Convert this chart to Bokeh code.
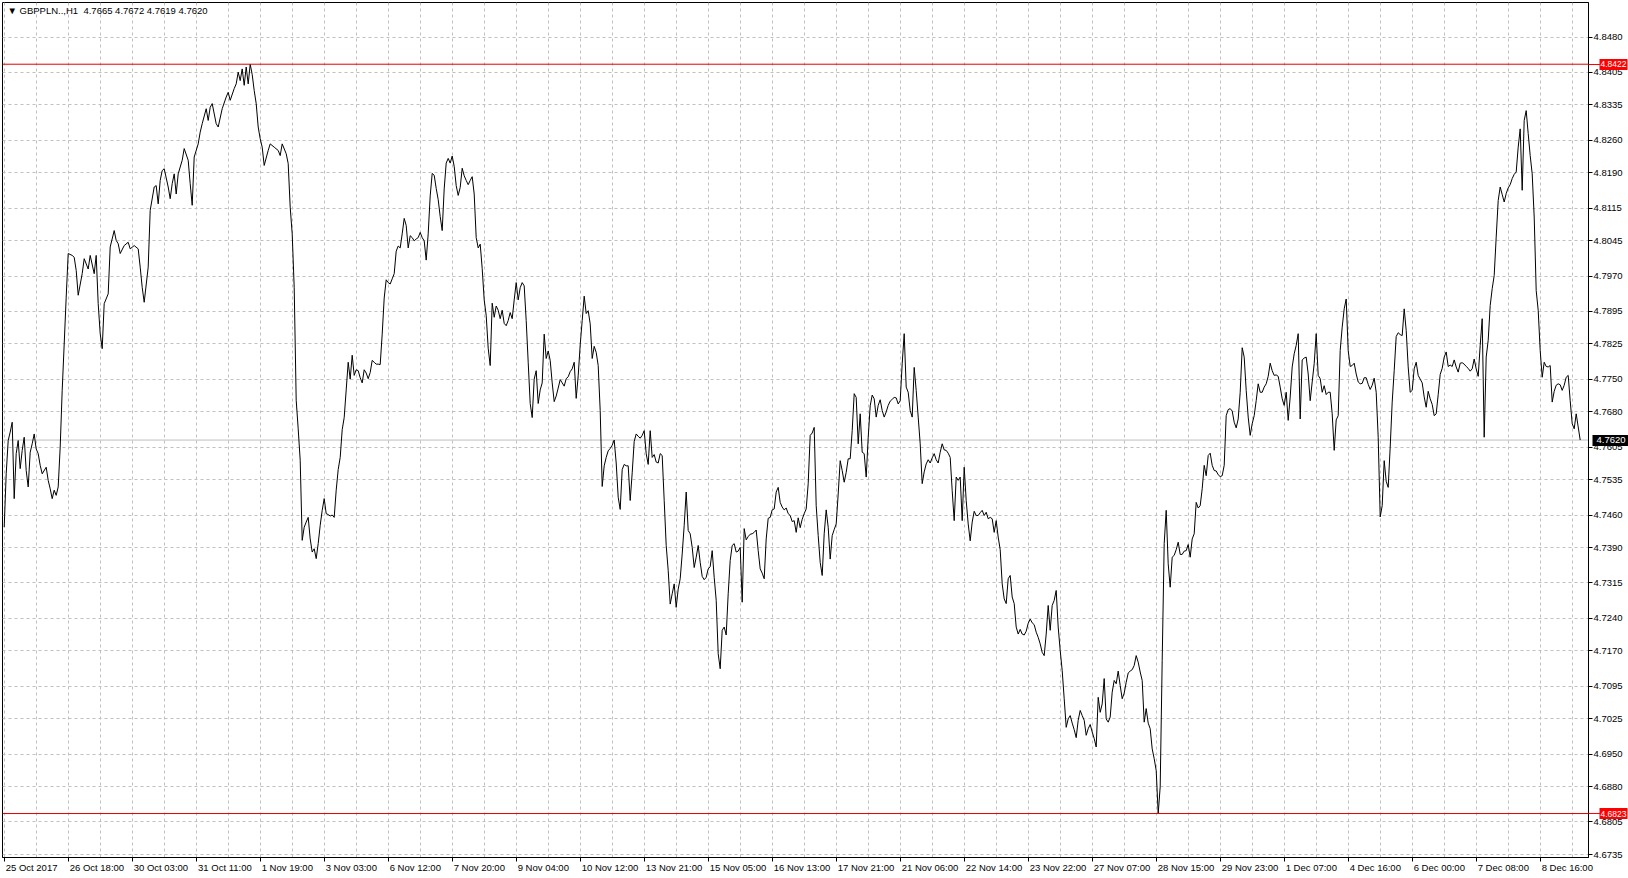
from bokeh.plotting import figure
from bokeh.models import FixedTicker, Span, Label, Range1d, PrintfTickFormatter, LinearAxis
from bokeh.embed import file_html
from bokeh.resources import INLINE

# ---------------- data ----------------
SYMBOL = "GBPPLN..,H1"
LAST_BAR_OHLC = ["4.7665", "4.7672", "4.7619", "4.7620"]

# hourly bar index (0 = first bar on screen) and close, first stretch (25 Oct - 3 Nov)
hours_a = [0, 1, 2, 3, 4, 5, 6, 7, 8, 9, 10, 11, 12, 13, 14, 15, 16, 17, 18, 19,
           21, 22, 23, 24, 25, 26, 27, 28, 29, 30, 31, 32,
           34, 35, 36, 37, 39, 40, 42, 43, 45, 46, 47, 48, 49, 50, 52, 53,
           55, 56, 57, 58, 60, 62, 63, 65, 67, 68, 69, 70, 72, 73,
           75, 76, 77, 78, 79, 80, 82, 83, 84, 85, 86, 87, 89, 90,
           92, 93, 94, 95, 97, 98, 99, 101, 102, 103, 104, 106, 107, 109,
           111, 112, 113, 115, 116, 117, 118, 119, 120, 121, 122, 123, 124, 125,
           126, 127, 128, 129, 130, 132, 133, 135, 137, 138, 139,
           141, 142, 143, 144, 145, 146, 147, 148, 149, 150, 151, 152, 153, 154,
           155, 156, 157, 158, 159, 160, 161, 162]
close_a = [4.7434, 4.7548, 4.7619, 4.7637, 4.7658, 4.7495, 4.7591, 4.7619, 4.7559, 4.7598,
           4.7626, 4.7555, 4.7520, 4.7594, 4.7612, 4.7633, 4.7601, 4.7591, 4.7566, 4.7548,
           4.7562, 4.7534, 4.7516, 4.7495, 4.7513, 4.7502, 4.7520, 4.7605, 4.7726, 4.7825, 4.7925, 4.8018,
           4.8014, 4.8010, 4.7982, 4.7929, 4.7975, 4.8007, 4.7985, 4.8014, 4.7975, 4.8014, 4.7911, 4.7847,
           4.7815, 4.7911, 4.7932, 4.8032,
           4.8067, 4.8046, 4.8039, 4.8018, 4.8035, 4.8042, 4.8028, 4.8035, 4.8028, 4.7989, 4.7946, 4.7914,
           4.7989, 4.8110,
           4.8160, 4.8163, 4.8124, 4.8174, 4.8195, 4.8199, 4.8160, 4.8135, 4.8167, 4.8188, 4.8145, 4.8188,
           4.8217, 4.8242,
           4.8217, 4.8167, 4.8121, 4.8224, 4.8252, 4.8277, 4.8295, 4.8327, 4.8302, 4.8330, 4.8338, 4.8295,
           4.8288, 4.8327,
           4.8352, 4.8362, 4.8345, 4.8370, 4.8380, 4.8405, 4.8387, 4.8412, 4.8377, 4.8416, 4.8380, 4.8422,
           4.8400, 4.8366,
           4.8338, 4.8288, 4.8263, 4.8245, 4.8206, 4.8238, 4.8252, 4.8245, 4.8238, 4.8227, 4.8252,
           4.8231, 4.8210, 4.8117, 4.8060, 4.7946, 4.7705, 4.7644, 4.7577, 4.7406, 4.7434, 4.7445, 4.7455,
           4.7409, 4.7381,
           4.7388, 4.7367, 4.7399, 4.7438, 4.7470, 4.7495, 4.7463, 4.7461]

# closes, one per hourly bar, from bar 163 onwards (3 Nov - 8 Dec)
close_b = [
    # 163 - 318
    4.7458, 4.7460, 4.7455, 4.7513, 4.7557, 4.7583, 4.7642, 4.7668, 4.7727, 4.7786,
    4.7750, 4.7801, 4.7758, 4.7770, 4.7768, 4.7753, 4.7742, 4.7770, 4.7763, 4.7751,
    4.7764, 4.7790, 4.7786, 4.7782, 4.7782, 4.7781, 4.7846, 4.7923, 4.7962, 4.7956,
    4.7953, 4.7964, 4.7975, 4.8023, 4.8034, 4.8030, 4.8060, 4.8093, 4.8078, 4.8030,
    4.8056, 4.8052, 4.8045, 4.8049, 4.8052, 4.8063, 4.8052, 4.8045, 4.8004, 4.8060,
    4.8141, 4.8189, 4.8185, 4.8157, 4.8133, 4.8097, 4.8067, 4.8156, 4.8211, 4.8221,
    4.8211, 4.8226, 4.8204, 4.8163, 4.8142, 4.8159, 4.8200, 4.8184, 4.8174, 4.8165,
    4.8174, 4.8182, 4.8145, 4.8052, 4.8030, 4.8038, 4.7986, 4.7919, 4.7886, 4.7816,
    4.7779, 4.7912, 4.7882, 4.7906, 4.7897, 4.7879, 4.7897, 4.7869, 4.7864, 4.7875,
    4.7892, 4.7879, 4.7919, 4.7956, 4.7919, 4.7945, 4.7956, 4.7949, 4.7875, 4.7786,
    4.7698, 4.7668, 4.7750, 4.7768, 4.7698, 4.7727, 4.7742, 4.7846, 4.7794, 4.7810,
    4.7790, 4.7742, 4.7702, 4.7714, 4.7731, 4.7749, 4.7742, 4.7735, 4.7751, 4.7755,
    4.7766, 4.7772, 4.7786, 4.7709, 4.7757, 4.7823, 4.7875, 4.7927, 4.7890, 4.7896,
    4.7868, 4.7794, 4.7820, 4.7807, 4.7779, 4.7683, 4.7521, 4.7565, 4.7583, 4.7597,
    4.7602, 4.7609, 4.7620, 4.7571, 4.7498, 4.7472, 4.7557, 4.7568, 4.7565, 4.7565,
    4.7491, 4.7550, 4.7617, 4.7633, 4.7628, 4.7624,
    # 319 - 483
    4.7630, 4.7640, 4.7591, 4.7568, 4.7640, 4.7583, 4.7589, 4.7573, 4.7571, 4.7591,
    4.7587, 4.7491, 4.7395, 4.7342, 4.7270, 4.7292, 4.7313, 4.7263, 4.7302, 4.7324,
    4.7377, 4.7438, 4.7509, 4.7427, 4.7420, 4.7391, 4.7348, 4.7370, 4.7395, 4.7359,
    4.7329, 4.7322, 4.7327, 4.7345, 4.7350, 4.7384, 4.7327, 4.7278, 4.7164, 4.7132,
    4.7214, 4.7221, 4.7204, 4.7292, 4.7363, 4.7395, 4.7399, 4.7381, 4.7383, 4.7391,
    4.7274, 4.7431, 4.7407, 4.7414, 4.7419, 4.7420, 4.7423, 4.7428, 4.7384, 4.7345,
    4.7336, 4.7324, 4.7409, 4.7453, 4.7455, 4.7471, 4.7473, 4.7509, 4.7519, 4.7487,
    4.7477, 4.7471, 4.7475, 4.7463, 4.7459, 4.7446, 4.7448, 4.7423, 4.7454, 4.7433,
    4.7451, 4.7463, 4.7473, 4.7527, 4.7630, 4.7635, 4.7647, 4.7480, 4.7416, 4.7359,
    4.7331, 4.7420, 4.7471, 4.7434, 4.7366, 4.7416, 4.7429, 4.7441, 4.7505, 4.7576,
    4.7555, 4.7530, 4.7551, 4.7580, 4.7580, 4.7640, 4.7719, 4.7711, 4.7612, 4.7676,
    4.7594, 4.7591, 4.7541, 4.7625, 4.7693, 4.7716, 4.7708, 4.7669, 4.7694, 4.7706,
    4.7683, 4.7669, 4.7680, 4.7694, 4.7703, 4.7707, 4.7711, 4.7710, 4.7697, 4.7704,
    4.7783, 4.7847, 4.7733, 4.7722, 4.7683, 4.7669, 4.7775, 4.7726, 4.7669, 4.7612,
    4.7527, 4.7552, 4.7569, 4.7578, 4.7571, 4.7582, 4.7591, 4.7578, 4.7571, 4.7594,
    4.7612, 4.7599, 4.7598, 4.7592, 4.7583, 4.7512, 4.7448, 4.7541, 4.7534, 4.7541,
    4.7448, 4.7562, 4.7491, 4.7441, 4.7405,
    # 484 - 618
    4.7445, 4.7468, 4.7459, 4.7459, 4.7465, 4.7470, 4.7459, 4.7466, 4.7452, 4.7455,
    4.7452, 4.7423, 4.7448, 4.7413, 4.7386, 4.7313, 4.7281, 4.7271, 4.7324, 4.7331,
    4.7285, 4.7271, 4.7221, 4.7206, 4.7216, 4.7206, 4.7204, 4.7212, 4.7229, 4.7238,
    4.7230, 4.7226, 4.7210, 4.7199, 4.7185, 4.7167, 4.7160, 4.7206, 4.7267, 4.7214,
    4.7267, 4.7278, 4.7299, 4.7221, 4.7171, 4.7128, 4.7068, 4.7007, 4.7025, 4.7032,
    4.7016, 4.7002, 4.6985, 4.7022, 4.7043, 4.7032, 4.7022, 4.6990, 4.7004, 4.7013,
    4.6997, 4.6983, 4.6965, 4.7071, 4.7039, 4.7057, 4.7111, 4.7025, 4.7018, 4.7029,
    4.7082, 4.7107, 4.7100, 4.7127, 4.7096, 4.7068, 4.7080, 4.7103, 4.7123, 4.7127,
    4.7130, 4.7139, 4.7160, 4.7146, 4.7125, 4.7107, 4.7018, 4.7047, 4.7016, 4.7004,
    4.6961, 4.6940, 4.6915, 4.6823, 4.6880, 4.7150, 4.7399, 4.7470, 4.7356, 4.7306,
    4.7370, 4.7374, 4.7386, 4.7402, 4.7376, 4.7376, 4.7383, 4.7384, 4.7397, 4.7370,
    4.7409, 4.7420, 4.7487, 4.7475, 4.7480, 4.7516, 4.7566, 4.7544, 4.7587, 4.7592,
    4.7566, 4.7555, 4.7554, 4.7546, 4.7542, 4.7544, 4.7566, 4.7672, 4.7685, 4.7687,
    4.7682, 4.7658, 4.7646, 4.7665, 4.7722,
    # 619 - 637
    4.7817, 4.7797, 4.7726, 4.7669, 4.7630, 4.7655, 4.7672, 4.7704, 4.7740, 4.7722,
    4.7722, 4.7733, 4.7740, 4.7756, 4.7784, 4.7768, 4.7758, 4.7759, 4.7756,
    # 638 - 788
    4.7733, 4.7708, 4.7694, 4.7722, 4.7662, 4.7712, 4.7776, 4.7804, 4.7822, 4.7847,
    4.7665, 4.7791, 4.7795, 4.7797, 4.7761, 4.7704, 4.7744, 4.7783, 4.7847, 4.7758,
    4.7751, 4.7722, 4.7736, 4.7717, 4.7722, 4.7722, 4.7676, 4.7598, 4.7663, 4.7672,
    4.7811, 4.7861, 4.7900, 4.7921, 4.7811, 4.7777, 4.7779, 4.7784, 4.7761, 4.7744,
    4.7740, 4.7741, 4.7753, 4.7753, 4.7739, 4.7728, 4.7737, 4.7752, 4.7722, 4.7626,
    4.7456, 4.7480, 4.7576, 4.7532, 4.7519, 4.7605, 4.7701, 4.7768, 4.7841, 4.7849,
    4.7845, 4.7843, 4.7900, 4.7854, 4.7776, 4.7722, 4.7726, 4.7772, 4.7786, 4.7758,
    4.7750, 4.7742, 4.7712, 4.7690, 4.7724, 4.7708, 4.7696, 4.7672, 4.7676, 4.7717,
    4.7760, 4.7773, 4.7797, 4.7808, 4.7777, 4.7780, 4.7777, 4.7791, 4.7776, 4.7765,
    4.7784, 4.7785, 4.7782, 4.7777, 4.7773, 4.7767, 4.7772, 4.7793, 4.7772, 4.7756,
    4.7822, 4.7879, 4.7626, 4.7797, 4.7833, 4.7907, 4.7943, 4.7971, 4.8053, 4.8131,
    4.8160, 4.8144, 4.8128, 4.8146, 4.8158, 4.8165, 4.8178, 4.8187, 4.8192, 4.8245,
    4.8284, 4.8153, 4.8302, 4.8323, 4.8274, 4.8227, 4.8188, 4.8096, 4.7939, 4.7897,
    4.7811, 4.7754, 4.7786, 4.7777, 4.7776, 4.7779, 4.7701, 4.7724, 4.7737, 4.7740,
    4.7738, 4.7726, 4.7737, 4.7754, 4.7758, 4.7704, 4.7655, 4.7644, 4.7676, 4.7648,
    4.7620,
]
hours_b = list(range(163, 163 + len(close_b)))

x_labels = ["25 Oct 2017", "26 Oct 18:00", "30 Oct 03:00", "31 Oct 11:00", "1 Nov 19:00",
            "3 Nov 03:00", "6 Nov 12:00", "7 Nov 20:00", "9 Nov 04:00", "10 Nov 12:00",
            "13 Nov 21:00", "15 Nov 05:00", "16 Nov 13:00", "17 Nov 21:00", "21 Nov 06:00",
            "22 Nov 14:00", "23 Nov 22:00", "27 Nov 07:00", "28 Nov 15:00", "29 Nov 23:00",
            "1 Dec 07:00", "4 Dec 16:00", "6 Dec 00:00", "7 Dec 08:00", "8 Dec 16:00"]
x_label_hours = [0, 32, 64, 96, 128, 160, 192, 224, 256, 288, 320, 352, 384, 416, 448,
                 480, 512, 544, 576, 608, 640, 672, 704, 736, 768]
grid_hours = [0, 16, 32, 48, 64, 80, 96, 112, 128, 144, 160, 176, 192, 208, 224, 240,
              256, 272, 288, 304, 320, 336, 352, 368, 384, 400, 416, 432, 448, 464, 480,
              496, 512, 528, 544, 560, 576, 592, 608, 624, 640, 656, 672, 688, 704, 720,
              736, 752, 768, 784]
price_ticks = [4.8480, 4.8405, 4.8335, 4.8260, 4.8190, 4.8115, 4.8045, 4.7970, 4.7895,
               4.7825, 4.7750, 4.7680, 4.7605, 4.7535, 4.7460, 4.7390, 4.7315, 4.7240,
               4.7170, 4.7095, 4.7025, 4.6950, 4.6880, 4.6805, 4.6735]
level_high = 4.8422
level_low = 4.6823
last_close = 4.7620

assert len(hours_a) == len(close_a)

# ---------------- figure ----------------
FONT = "Liberation Sans"
FS_PX = 9.5
FS = f"{FS_PX}px"
GRID = "#C0C0C0"
RED = "#FF0000"
FRAME_W, FRAME_H = 1586, 855
X0, X1 = -0.85, 792.15

p = figure(frame_width=FRAME_W, frame_height=FRAME_H,
           x_range=Range1d(X0, X1), y_range=Range1d(4.67292, 4.85537),
           y_axis_location="right", output_backend="svg", toolbar_location=None,
           min_border_left=2, min_border_top=2, min_border_right=40, min_border_bottom=21)
p.background_fill_color = "white"
p.border_fill_color = "white"
p.outline_line_color = "black"
p.outline_line_width = 1

yax = p.yaxis[0]
yax.ticker = FixedTicker(ticks=price_ticks, minor_ticks=[])
yax.formatter = PrintfTickFormatter(format="%.4f")
yax.major_tick_in = 0
yax.major_tick_out = 4
yax.minor_tick_in = 0
yax.minor_tick_out = 0
yax.major_label_standoff = 1
yax.major_label_text_font = FONT
yax.major_label_text_font_size = FS
yax.major_label_text_color = "black"
yax.axis_line_color = "black"
yax.major_tick_line_color = "black"


# ---- price tags on the right scale, drawn by extra right axes ----
# These axes sit just outside the price scale; their wide ticks reach back
# (tick_in) over the scale to form the coloured boxes, and a negative standoff
# brings the white text back onto the boxes.
def tag_axis(values, color, tick_in, tick_out, standoff, font_size, width, text_color, overrides=None):
    ax = LinearAxis(ticker=FixedTicker(ticks=values, minor_ticks=[]),
                    formatter=PrintfTickFormatter(format="%.4f"))
    if overrides is not None:
        ax.major_label_overrides = overrides
    ax.axis_line_color = None
    ax.major_tick_line_color = color
    ax.major_tick_line_width = width
    ax.major_tick_line_cap = "butt"
    ax.major_tick_in = tick_in
    ax.major_tick_out = tick_out
    ax.minor_tick_in = 0
    ax.minor_tick_out = 0
    ax.major_label_standoff = standoff
    ax.major_label_text_font = FONT
    ax.major_label_text_font_size = font_size
    ax.major_label_text_color = text_color
    p.add_layout(ax, "right")
    return ax


# thin red extension of the level lines across the scale (no text, no width)
tag_axis([level_high, level_low], RED, tick_in=37, tick_out=0, standoff=0, font_size=FS,
         width=1, text_color=None, overrides={level_high: "", level_low: ""})
# red level tags
tag_axis([level_high, level_low], RED, tick_in=26, tick_out=2, standoff=-27, font_size="8.5px",
         width=11, text_color="white")
# black last-price tag
tag_axis([last_close], "black", tick_in=37, tick_out=1, standoff=-34, font_size=FS,
         width=11, text_color="white")

# time axis: tick marks at each label's bar
xax = p.xaxis[0]
xax.ticker = FixedTicker(ticks=x_label_hours, minor_ticks=[])
xax.major_label_text_color = None
xax.major_label_text_font_size = "1px"
xax.major_label_standoff = 0
xax.major_tick_in = 0
xax.major_tick_out = 4
xax.minor_tick_in = 0
xax.minor_tick_out = 0
xax.axis_line_color = "black"
xax.major_tick_line_color = "black"

# second time axis carrying the texts, which start at their tick (MT4 style)
ADV = {"0": 556, "1": 556, "2": 556, "3": 556, "4": 556, "5": 556, "6": 556, "7": 556,
       "8": 556, "9": 556, " ": 278, ":": 278, "O": 778, "c": 500, "t": 278, "N": 722,
       "o": 556, "v": 500, "D": 722, "e": 556}
px_per_bar = FRAME_W / (X1 - X0)
text_pos = []
overrides = {}
for hr, txt in zip(x_label_hours, x_labels):
    w = sum(ADV.get(ch, 556) for ch in txt) * FS_PX / 1000.0
    pos = hr + (w / 2 + 1.5) / px_per_bar
    text_pos.append(pos)
    overrides[pos] = txt
tax = LinearAxis(ticker=FixedTicker(ticks=text_pos, minor_ticks=[]),
                 major_label_overrides=overrides)
tax.axis_line_color = None
tax.major_tick_line_color = None
tax.major_tick_in = 0
tax.major_tick_out = 0
tax.minor_tick_in = 0
tax.minor_tick_out = 0
tax.major_label_standoff = 0
tax.major_label_text_font = FONT
tax.major_label_text_font_size = FS
tax.major_label_text_color = "black"
p.add_layout(tax, "below")

p.xgrid.ticker = FixedTicker(ticks=grid_hours)
p.xgrid.grid_line_color = GRID
p.xgrid.grid_line_dash = "3 3"
p.ygrid.grid_line_color = GRID
p.ygrid.grid_line_dash = "3 3"

p.add_layout(Span(location=last_close, dimension="width", line_color="#BEBEBE",
                  line_width=1, level="underlay"))
p.add_layout(Span(location=level_high, dimension="width", line_color="#E00000", line_width=1))
p.add_layout(Span(location=level_low, dimension="width", line_color="#E00000", line_width=1))

p.line(hours_a + hours_b, close_a + close_b, line_color="black", line_width=1)

# header text at top-left
p.add_layout(Label(x=X0, y=p.y_range.end, x_offset=5, y_offset=-2,
                   text="\u25bc " + SYMBOL + "\u00a0\u00a0" + " ".join(LAST_BAR_OHLC),
                   text_font=FONT, text_font_size=FS, text_color="black",
                   text_align="left", text_baseline="top"))

open("out.html", "w").write(file_html(p, INLINE))
